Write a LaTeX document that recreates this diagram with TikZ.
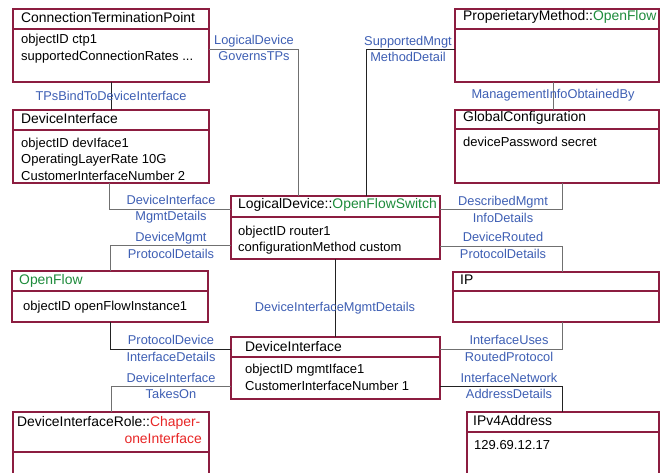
\documentclass[tikz,border=0pt]{standalone}
\usepackage{fontspec}
\setmainfont{Liberation Sans}
\definecolor{boxc}{HTML}{8C1D40}
\definecolor{lblc}{HTML}{3E5FB4}
\definecolor{grn}{HTML}{1E8C3C}
\definecolor{redc}{HTML}{E82626}
\definecolor{lgray}{HTML}{707070}
\definecolor{dgray}{HTML}{222222}
\tikzset{
  umlbox/.style={draw=boxc, line width=1.1pt, anchor=north west, inner sep=0pt, outer sep=0pt},
  divline/.style={draw=boxc, line width=1.1pt},
  txt/.style={anchor=west, inner sep=0pt, font=\fontsize{13}{16.5}\selectfont, align=left},
  ttl/.style={anchor=west, inner sep=0pt, font=\fontsize{13.9}{16}\selectfont, align=left},
  lbl/.style={inner sep=0pt, text=lblc, font=\fontsize{12.8}{16.5}\selectfont, align=center},
  conn/.style={draw=lgray, line width=0.9pt},
  connd/.style={draw=dgray, line width=0.9pt}
}
\begin{document}
\begin{tikzpicture}[x=1pt,y=-1pt]
\useasboundingbox (0,0) rectangle (663,472);
\clip (0,0) rectangle (663,472);
\fill[white] (0,0) rectangle (663,472);

% boxes
\node[umlbox, minimum width=196pt, minimum height=73pt] (ctp) at (13,9) {};
\node[umlbox, minimum width=196pt, minimum height=73pt] (di1) at (13,110) {};
\node[umlbox, minimum width=209pt, minimum height=63pt] (ld) at (231,196) {};
\node[umlbox, minimum width=196pt, minimum height=51pt] (of) at (12,271) {};
\node[umlbox, minimum width=209pt, minimum height=62pt] (di2) at (231,337) {};
\node[umlbox, minimum width=196pt, minimum height=80pt] (role) at (13,412) {};
\node[umlbox, minimum width=204pt, minimum height=73pt] (pm) at (455,9) {};
\node[umlbox, minimum width=204pt, minimum height=73pt] (gc) at (455,110) {};
\node[umlbox, minimum width=206pt, minimum height=50pt] (ip) at (453,272) {};
\node[umlbox, minimum width=192pt, minimum height=80pt] (ipv) at (467,412) {};

% dividers
\draw[divline] ([yshift=-20pt]ctp.north west) -- ([yshift=-20pt]ctp.north east);
\draw[divline] ([yshift=-20pt]di1.north west) -- ([yshift=-20pt]di1.north east);
\draw[divline] ([yshift=-21pt]ld.north west) -- ([yshift=-21pt]ld.north east);
\draw[divline] ([yshift=-20pt]of.north west) -- ([yshift=-20pt]of.north east);
\draw[divline] ([yshift=-20pt]di2.north west) -- ([yshift=-20pt]di2.north east);
\draw[divline] ([yshift=-40pt]role.north west) -- ([yshift=-40pt]role.north east);
\draw[divline] ([yshift=-20pt]pm.north west) -- ([yshift=-20pt]pm.north east);
\draw[divline] ([yshift=-19pt]gc.north west) -- ([yshift=-19pt]gc.north east);
\draw[divline] ([yshift=-19pt]ip.north west) -- ([yshift=-19pt]ip.north east);
\draw[divline] ([yshift=-20pt]ipv.north west) -- ([yshift=-20pt]ipv.north east);

% connectors
\draw[connd] (ctp.south) -- (di1.north);
\draw[conn] ([yshift=-40pt]ctp.north east) -| ([xshift=67pt]ld.north west);
\draw[conn] ([xshift=-2pt]di1.south) |- ([yshift=-13pt]ld.north west);
\draw[conn] ([yshift=-49pt]ld.north west) -| (of.north);
\draw[connd] (of.south) |- ([yshift=-12pt]di2.north west);
\draw[conn] ([yshift=-49pt]di2.north west) -| (role.north);
\draw[connd] (ld.south) -- (di2.north);
\draw[connd] ([xshift=135pt]ld.north west) |- ([yshift=-40pt]pm.north west);
\draw[conn] ([xshift=98pt]pm.south west) -- ([xshift=98pt]gc.north west);
\draw[conn] ([yshift=-13pt]ld.north east) -| ([xshift=107pt]gc.south west);
\draw[conn] ([yshift=-50pt]ld.north east) -| ([xshift=109pt]ip.north west);
\draw[conn] ([xshift=109pt]ip.south west) |- ([yshift=-12pt]di2.north east);
\draw[connd] ([yshift=-49pt]di2.north east) -| ([xshift=95pt]ipv.north west);

% connector labels
\node[lbl] (l1) at (111,96) {TPsBindToDeviceInterface};
\node[lbl] (l2) at (254,48) {LogicalDevice\\GovernsTPs};
\node[lbl] (l3) at (171,209) {DeviceInterface\\MgmtDetails};
\node[lbl] (l4) at (171,245.5) {DeviceMgmt\\ProtocolDetails};
\node[lbl] (l5) at (171,348.5) {ProtocolDevice\\InterfaceDetails};
\node[lbl] (l6) at (171,386) {DeviceInterface\\TakesOn};
\node[lbl] (l7) at (335,308) {DeviceInterfaceMgmtDetails};
\node[lbl] (l8) at (408,49) {SupportedMngt\\MethodDetail};
\node[lbl] (l9) at (553,95) {ManagementInfoObtainedBy};
\node[lbl] (l10) at (503,209.5) {DescribedMgmt\\InfoDetails};
\node[lbl] (l11) at (503,245.5) {DeviceRouted\\ProtocolDetails};
\node[lbl] (l12) at (509,348.5) {InterfaceUses\\RoutedProtocol};
\node[lbl] (l13) at (509,386) {InterfaceNetwork\\AddressDetails};

% box texts
\node[ttl] (t1) at (21,18) {ConnectionTerminationPoint};
\node[txt] (b1) at (21,48.5) {objectID ctp1\\supportedConnectionRates ...};
\node[ttl] (t2) at (21,118.5) {DeviceInterface};
\node[txt] (b2) at (21,159) {objectID devIface1\\OperatingLayerRate 10G\\CustomerInterfaceNumber 2};
\node[ttl] (t3) at (238,205) {LogicalDevice::\textcolor{grn}{OpenFlowSwitch}};
\node[txt] (b3) at (238,240) {objectID router1\\configurationMethod custom};
\node[ttl] (t4) at (19,281) {\textcolor{grn}{OpenFlow}};
\node[txt] (b4) at (23,307) {objectID openFlowInstance1};
\node[ttl] (t5) at (245,347) {DeviceInterface};
\node[txt] (b5) at (245,377.5) {objectID mgmtIface1\\CustomerInterfaceNumber 1};
\node[ttl] (t6) at (17,423) {DeviceInterfaceRole::\textcolor{redc}{Chaper-}};
\node[ttl, anchor=east, text=redc] (t6b) at (202,439) {oneInterface};
\node[ttl] (t7) at (463,17) {ProperietaryMethod::\textcolor{grn}{OpenFlow}};
\node[ttl] (t8) at (463,118) {GlobalConfiguration};
\node[txt] (b8) at (463,142) {devicePassword secret};
\node[ttl] (t9) at (460,280) {IP};
\node[ttl] (t10) at (473,421) {IPv4Address};
\node[txt] (b10) at (474,445) {129.69.12.17};
\end{tikzpicture}
\end{document}
